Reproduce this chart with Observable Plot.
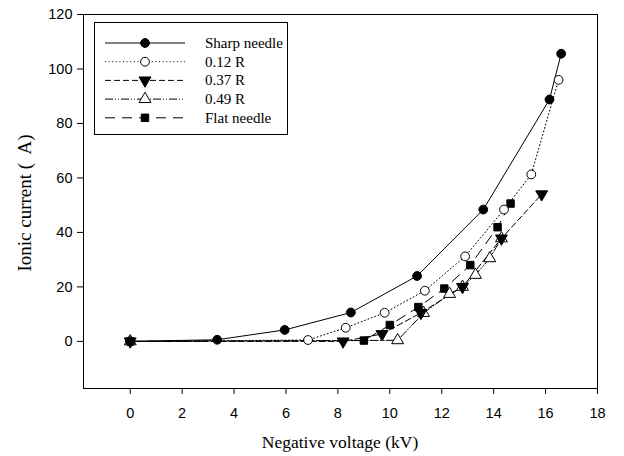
<!DOCTYPE html>
<html>
<head>
<meta charset="utf-8">
<script src="https://cdn.jsdelivr.net/npm/d3@7"></script>
<script src="https://cdn.jsdelivr.net/npm/@observablehq/plot@0.6"></script>
<style>
html, body { margin: 0; padding: 0; background: #fff; }
#chart { position: relative; width: 624px; height: 456px; }
</style>
</head>
<body>
<div id="chart"></div>
<script>
// Data
const seriesNames = ["Sharp needle", "0.12 R", "0.37 R", "0.49 R", "Flat needle"];

const voltSharp = [0, 3.35, 5.95, 8.5, 11.05, 13.6, 16.15, 16.6];
const curSharp  = [0, 0.6, 4.2, 10.6, 24.0, 48.4, 88.8, 105.6];

const volt012 = [0, 6.85, 8.3, 9.8, 11.35, 12.9, 14.4, 15.45, 16.5];
const cur012  = [0, 0.5, 5.0, 10.5, 18.6, 31.2, 48.4, 61.3, 96.0];

const volt037 = [0, 8.2, 9.7, 11.2, 12.8, 14.3, 15.85];
const cur037  = [0, 0.0, 2.7, 10.5, 20.0, 37.8, 54.0];

const volt049 = [0, 10.3, 11.3, 12.3, 12.8, 13.3, 13.85, 14.3];
const cur049  = [0, 0.4, 10.4, 17.4, 20.0, 24.4, 30.5, 37.8];

const voltFlat = [0, 9.0, 10.0, 11.1, 12.1, 13.1, 14.15, 14.65];
const curFlat  = [0, 0.3, 6.0, 12.6, 19.4, 28.0, 41.9, 50.6];

const xTicks = [0, 2, 4, 6, 8, 10, 12, 14, 16, 18];
const yTicks = [0, 20, 40, 60, 80, 100, 120];

const xTitle = "Negative voltage (kV)";
const yTitle = "Ionic current (  A)";

const rows = (xs, ys) => xs.map((x, i) => ({x, y: ys[i]}));

const series = [
  {name: seriesNames[0], data: rows(voltSharp, curSharp), dash: null, symbol: "circle", fill: "black", rotate: 0, r: 4.4},
  {name: seriesNames[1], data: rows(volt012, cur012), dash: "1,2.6", symbol: "circle", fill: "white", rotate: 0, r: 4.4},
  {name: seriesNames[2], data: rows(volt037, cur037), dash: "6,3", symbol: "triangle", fill: "black", rotate: 180, r: 4.4},
  {name: seriesNames[3], data: rows(volt049, cur049), dash: "8,2,1,2,1,2", symbol: "triangle", fill: "white", rotate: 0, r: 4.4},
  {name: seriesNames[4], data: rows(voltFlat, curFlat), dash: "10,7", symbol: "square", fill: "black", rotate: 0, r: 4.2}
];

const marks = [Plot.frame({stroke: "black", strokeWidth: 1})];
for (const s of series) {
  marks.push(Plot.line(s.data, {x: "x", y: "y", stroke: "black", strokeWidth: 1, strokeDasharray: s.dash || undefined}));
}
for (const s of series.slice().reverse()) {
  marks.push(Plot.dot(s.data, {x: "x", y: "y", symbol: () => s.symbol, r: s.r, fill: s.fill, stroke: "black", strokeWidth: 1, rotate: s.rotate}));
}
marks.push(Plot.axisX({ticks: xTicks, tickSize: 6, tickPadding: 13, label: null, fontSize: 14.5, fontFamily: "Liberation Sans, Arial, sans-serif"}));
marks.push(Plot.axisY({ticks: yTicks, tickSize: 6, tickPadding: 5, label: null, fontSize: 14.5, fontFamily: "Liberation Sans, Arial, sans-serif"}));

const plot = Plot.plot({
  width: 624,
  height: 456,
  marginLeft: 83,
  marginRight: 27,
  marginTop: 14,
  marginBottom: 68,
  style: {background: "white", color: "black", overflow: "visible"},
  x: {domain: [-1.8, 18]},
  y: {domain: [-17.3, 120]},
  symbol: {type: "identity"},
  marks
});

const svg = d3.select(plot);
const serif = "Liberation Serif, 'Times New Roman', serif";

// Axis titles
svg.append("text")
  .attr("x", 340).attr("y", 448)
  .attr("text-anchor", "middle")
  .attr("font-family", serif)
  .attr("font-size", 17.5)
  .attr("fill", "black")
  .text(xTitle);

svg.append("text")
  .attr("transform", "translate(31,203) rotate(-90)")
  .attr("text-anchor", "middle")
  .attr("font-family", serif)
  .attr("font-size", 19)
  .attr("fill", "black")
  .style("white-space", "pre")
  .text(yTitle);

// Legend box
const lg = svg.append("g").attr("text-anchor", "start");
lg.append("rect").attr("x", 94.5).attr("y", 22.5).attr("width", 193).attr("height", 112)
  .attr("fill", "white").attr("stroke", "black").attr("stroke-width", 1);
const symGen = {circle: d3.symbolCircle, triangle: d3.symbolTriangle, square: d3.symbolSquare};
series.forEach((s, i) => {
  const yy = 43 + i * 18.7;
  lg.append("line").attr("x1", 105).attr("x2", 185).attr("y1", yy).attr("y2", yy)
    .attr("stroke", "black").attr("stroke-width", 1)
    .attr("stroke-dasharray", s.dash || null);
  const area = Math.PI * s.r * s.r;
  lg.append("path").attr("d", d3.symbol(symGen[s.symbol], area)())
    .attr("transform", `translate(145,${yy}) rotate(${s.rotate})`)
    .attr("fill", s.fill).attr("stroke", "black").attr("stroke-width", 1);
  lg.append("text").attr("x", 205).attr("y", yy + 5)
    .attr("text-anchor", "start")
    .attr("font-family", serif)
    .attr("font-size", 15).attr("fill", "black")
    .text(s.name);
});

document.getElementById("chart").appendChild(plot);
</script>
</body>
</html>
